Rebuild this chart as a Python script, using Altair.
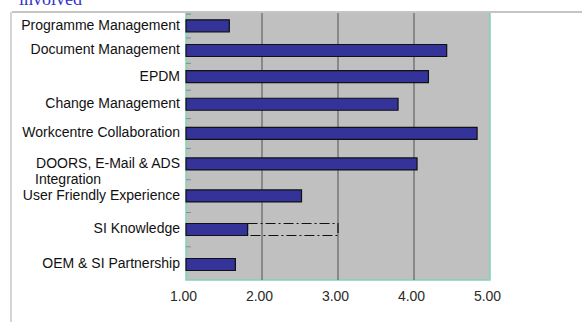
import altair as alt
import pandas as pd

categories = [
    "Programme Management",
    "Document Management",
    "EPDM",
    "Change Management",
    "Workcentre Collaboration",
    "DOORS, E-Mail & ADS",
    "User Friendly Experience",
    "SI Knowledge",
    "OEM & SI Partnership",
]
scores = [1.57, 4.43, 4.19, 3.79, 4.83, 4.04, 2.52, 1.81, 1.65]
baseline = 1.0
x_ticks = [1, 2, 3, 4, 5]
grid_values = [2, 3, 4]
range_category = ["SI Knowledge"]
range_start = [1.81]
range_end = [3.0]
second_line_cat = ["DOORS, E-Mail & ADS"]
second_line_text = ["Integration"]
title_text = "involved"

# the scanned reference is slightly perspective-distorted vertically;
# a pow scale on the (shifted) row index reproduces that spacing
SHIFT = 16.15
pos = {c: i for i, c in enumerate(categories)}

df = pd.DataFrame({"cat": categories, "score": scores,
                   "start": [baseline] * len(categories)})
df["idx"] = df["cat"].map(pos)
rng = pd.DataFrame({"cat": range_category, "lo": range_start, "hi": range_end})
rng["idx"] = rng["cat"].map(pos)
grid = pd.DataFrame({"g": grid_values})
line2 = pd.DataFrame({"cat": second_line_cat, "t": second_line_text})
line2["idx"] = line2["cat"].map(pos)

FONT = "Liberation Sans"
xscale = alt.Scale(domain=[1, 5], nice=False, zero=False, padding=0)
yscale = alt.Scale(type="pow", exponent=2, domain=[15.56, 24.58], nice=False,
                   zero=False, range=[0, 268], padding=0)

U = f"datum.idx + {SHIFT}"

bars = alt.Chart(df).transform_calculate(u=U).mark_bar(
    color="#333399", stroke="#111111", strokeWidth=1.2, size=12, orient="horizontal"
).encode(
    x=alt.X("start:Q", scale=xscale,
            axis=alt.Axis(values=x_ticks, format=".2f", title=None, grid=False,
                          domain=False, ticks=False, labelFont=FONT, labelFontSize=14,
                          labelColor="#2a2a2a", labelPadding=9, labelOffset=-3,
                          labelFlush=False)),
    x2="score:Q",
    y=alt.Y("u:Q", scale=yscale, axis=None),
)

ylabels = alt.Chart(df).transform_calculate(u=U).mark_text(
    font=FONT, fontSize=14, color="#111111", align="right", baseline="middle"
).encode(
    y=alt.Y("u:Q", scale=yscale),
    x=alt.value(-6),
    text="cat:N",
)

gridlines = alt.Chart(grid).mark_rule(color="#505050", strokeWidth=1).encode(
    x=alt.X("g:Q", scale=xscale),
)

rangebox = alt.Chart(rng).transform_calculate(u=U).mark_bar(
    fill=None, stroke="#111111", strokeWidth=1.2, strokeDash=[10, 3, 2, 3],
    size=12, orient="horizontal"
).encode(
    x=alt.X("lo:Q", scale=xscale),
    x2="hi:Q",
    y=alt.Y("u:Q", scale=yscale),
)

ticks = alt.Chart(df).transform_calculate(u=U + " - 0.5").mark_rule(
    color="#6a9a8a", strokeWidth=1
).encode(
    y=alt.Y("u:Q", scale=yscale),
    x=alt.value(0),
    x2=alt.value(5),
)

label2 = alt.Chart(line2).transform_calculate(u=U).mark_text(
    font=FONT, fontSize=14, color="#111111", align="left", baseline="middle", dy=16
).encode(
    y=alt.Y("u:Q", scale=yscale),
    x=alt.value(-151),
    text="t:N",
)

frame_top = alt.Chart(grid).mark_rule(color="#c4c4c4", strokeWidth=1.5).encode(
    x=alt.value(-174), x2=alt.value(400), y=alt.value(0)
)
frame_left = alt.Chart(grid).mark_rule(color="#d4d4d4", strokeWidth=2).encode(
    x=alt.value(-175), y=alt.value(0), y2=alt.value(320)
)

title = alt.Chart(pd.DataFrame({"t": [title_text]})).mark_text(
    font="Liberation Serif", fontSize=18, color="#3333cc", align="left",
    baseline="alphabetic"
).encode(text="t:N", x=alt.value(-167), y=alt.value(-7))

chart = alt.layer(gridlines, bars, rangebox, ticks, ylabels, label2,
                  frame_top, frame_left, title).properties(
    width=304, height=268,
    padding={"left": 186, "top": 12, "right": 92, "bottom": 42},
    autosize=alt.AutoSizeParams(type="none"),
    background="white",
).configure_view(
    fill="#c0c0c0", stroke="#7fd3b3", strokeWidth=1.5
)

chart.save("out.html", embed_options={"renderer": "svg", "actions": False})
